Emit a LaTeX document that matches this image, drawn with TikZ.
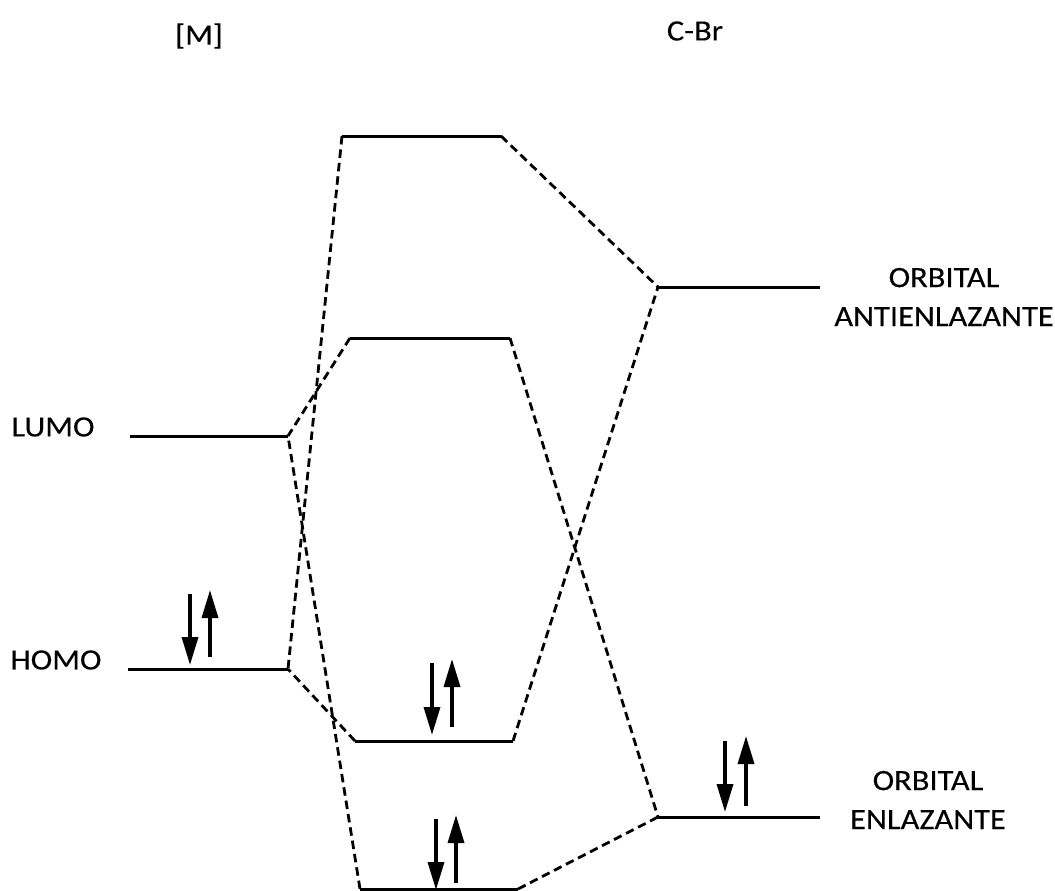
\documentclass[tikz,border=0pt]{standalone}
\usepackage{fontspec}
\setmainfont{Carlito}[FakeStretch=1.1,FakeBold=0.2]
\usetikzlibrary{arrows.meta}
\begin{document}
\begin{tikzpicture}[x=1pt,y=-1pt,
  level/.style={line width=3pt},
  corr/.style={line width=2.8pt,dashed,dash pattern=on 8.5pt off 5pt},
  spin/.style={line width=3.4pt,-{Triangle[length=28pt,width=16pt]}},
  lbl/.style={font=\fontsize{29.5}{39}\selectfont,align=center,inner sep=0pt}]
\useasboundingbox (0,0) rectangle (1055,891);
% level end points
\coordinate (LUl) at (130,436); \coordinate (LUr) at (288,436);
\coordinate (HOl) at (128,669); \coordinate (HOr) at (288,669);
\coordinate (A1l) at (342,136); \coordinate (A1r) at (501,136);
\coordinate (A2l) at (350,338); \coordinate (A2r) at (510,338);
\coordinate (B1l) at (355,741); \coordinate (B1r) at (513,741);
\coordinate (B2l) at (360,889); \coordinate (B2r) at (518,889);
\coordinate (ABl) at (658,287); \coordinate (ABr) at (820,287);
\coordinate (BOl) at (658,817); \coordinate (BOr) at (820,817);
% levels
\draw[level] (LUl) -- (LUr);
\draw[level] (HOl) -- (HOr);
\draw[level] (A1l) -- (A1r);
\draw[level] (A2l) -- (A2r);
\draw[level] (B1l) -- (B1r);
\draw[level] (B2l) -- (B2r);
\draw[level] (ABl) -- (ABr);
\draw[level] (BOl) -- (BOr);
% correlation lines
\draw[corr] (A1l) -- (HOr);
\draw[corr] (A1r) -- (ABl);
\draw[corr] (A2l) -- (LUr);
\draw[corr] (A2r) -- (BOl);
\draw[corr] (B1l) -- (HOr);
\draw[corr] (B1r) -- (ABl);
\draw[corr] (B2l) -- (LUr);
\draw[corr] (B2r) -- (BOl);
% electrons
\draw[spin] (190,594) -- (190,665);
\draw[spin] (210,657) -- (210,590);
\draw[spin] (432,663) -- (432,735);
\draw[spin] (452,727) -- (452,659);
\draw[spin] (436,819) -- (436,890);
\draw[spin] (456,883) -- (456,815);
\draw[spin] (725,741) -- (725,812);
\draw[spin] (746,806) -- (746,736);
% labels
\node[lbl] (tM) at (199,36) {[M]};
\node[lbl] (tCBr) at (695,31) {C-Br};
\node[lbl] (tLUMO) at (53,427) {LUMO};
\node[lbl] (tHOMO) at (56,660) {HOMO};
\node[lbl] (tAB) at (944,297) {ORBITAL\\ANTIENLAZANTE};
\node[lbl] (tBO) at (928,800) {ORBITAL\\ENLAZANTE};
\end{tikzpicture}
\end{document}
